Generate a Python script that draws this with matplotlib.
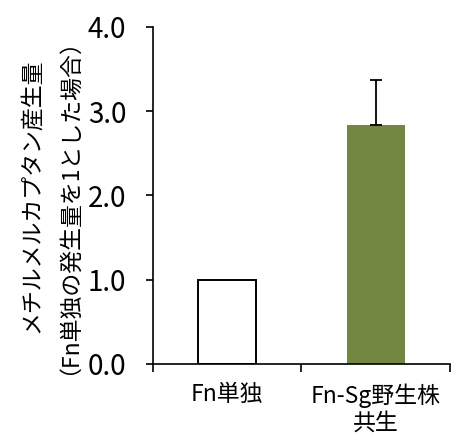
import matplotlib
matplotlib.use("Agg")
import matplotlib.pyplot as plt

plt.rcParams['font.family'] = ['Noto Sans CJK JP', 'DejaVu Sans']

categories = ["Fn単独", "Fn-Sg野生株\n共生"]
values = [1.0, 2.84]
errors = [0.0, 0.53]
colors = ["white", "#738740"]
edgecolors = ["black", "none"]
yticks = [0.0, 1.0, 2.0, 3.0, 4.0]
ylabel = "メチルメルカプタン産生量\n（Fn単独の発生量を1とした場合）"

fig = plt.figure(figsize=(4.63, 4.47), dpi=100)
ax = fig.add_axes([0.330, 0.1857, 0.642, 0.7539])

pos = [0.5, 1.5]
for i in range(len(categories)):
    ax.bar(pos[i], values[i], width=0.39, color=colors[i],
           edgecolor=edgecolors[i], linewidth=1.4, zorder=2)
    if errors[i] > 0:
        ax.errorbar(pos[i], values[i], yerr=[[0], [errors[i]]], fmt='none',
                    ecolor='black', elinewidth=1.3, capsize=4, capthick=1.3, zorder=3)

ax.set_xlim(0, 2)
ax.set_ylim(0, 4.0)
ax.set_yticks(yticks)
ax.set_yticklabels([f"{v:.1f}" for v in yticks], fontsize=20)
ax.set_xticks([0, 1, 2])
ax.set_xticklabels([])
ax.set_xticks(pos, minor=True)
ax.set_xticklabels(categories, minor=True, fontsize=16.5, linespacing=1.2)
ax.tick_params(axis='x', which='major', direction='out', length=6, width=1.2)
ax.tick_params(axis='x', which='minor', length=0, pad=14)
ax.tick_params(axis='y', direction='out', length=5, width=1.2, pad=14)

for s in ['top', 'right']:
    ax.spines[s].set_visible(False)
for s in ['left', 'bottom']:
    ax.spines[s].set_linewidth(1.2)

ax.set_ylabel(ylabel, fontsize=16.5, linespacing=1.15, labelpad=14)

fig.savefig("out.png", dpi=100)
